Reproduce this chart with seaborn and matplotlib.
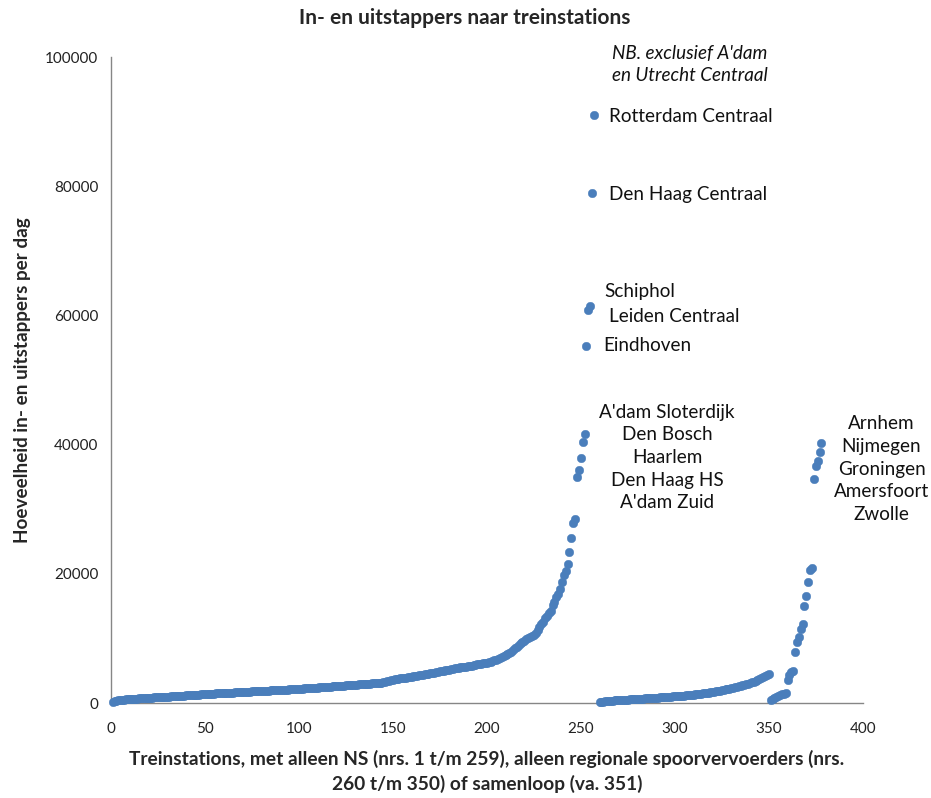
import numpy as np
import pandas as pd
import matplotlib
matplotlib.use("Agg")
import matplotlib.pyplot as plt
import seaborn as sns

# stations served only by NS (nrs. 1..257 shown, A'dam/Utrecht CS excluded), sorted
ns_values = [
    120, 290, 370, 430, 470, 500, 530, 560, 590, 610,
    640, 660, 680, 700, 715, 735, 760, 775, 790, 810,
    830, 850, 865, 880, 900, 920, 935, 955, 970, 990,
    1005, 1020, 1045, 1060, 1080, 1105, 1120, 1140, 1165, 1180,
    1200, 1225, 1240, 1260, 1285, 1300, 1320, 1345, 1360, 1390,
    1405, 1420, 1440, 1450, 1470, 1490, 1500, 1515, 1530, 1550,
    1565, 1580, 1600, 1610, 1625, 1645, 1660, 1675, 1690, 1710,
    1720, 1740, 1755, 1770, 1790, 1800, 1815, 1830, 1850, 1865,
    1880, 1895, 1910, 1930, 1945, 1960, 1975, 1990, 2010, 2025,
    2040, 2060, 2075, 2090, 2110, 2125, 2140, 2160, 2180, 2200,
    2220, 2240, 2260, 2280, 2300, 2320, 2345, 2365, 2385, 2405,
    2425, 2450, 2470, 2490, 2510, 2530, 2555, 2575, 2600, 2620,
    2640, 2665, 2685, 2705, 2730, 2750, 2770, 2790, 2815, 2835,
    2855, 2875, 2900, 2920, 2940, 2960, 2985, 3005, 3030, 3050,
    3075, 3100, 3125, 3150, 3180, 3250, 3350, 3450, 3550, 3620,
    3680, 3730, 3780, 3820, 3860, 3900, 3950, 3990, 4040, 4090,
    4140, 4190, 4240, 4300, 4350, 4400, 4450, 4500, 4560, 4610,
    4660, 4710, 4770, 4830, 4890, 4940, 5000, 5060, 5120, 5180,
    5240, 5300, 5360, 5420, 5470, 5520, 5560, 5610, 5650, 5700,
    5750, 5800, 5860, 5920, 5980, 6030, 6090, 6150, 6210, 6270,
    6340, 6420, 6500, 6600, 6700, 6820, 6950, 7080, 7220, 7370,
    7530, 7700, 7900, 8150, 8450, 8750, 9000, 9250, 9450, 9650,
    9850, 10050, 10200, 10350, 10500, 10900, 11300, 11700, 12200, 12600,
    13100, 13500, 13900, 14200, 15100, 15700, 16400, 16900, 17700, 18800,
    19800, 20400, 21500, 23400, 25600, 27900, 28500, 35000, 36100, 37900,
    40400, 41600, 55300, 60900, 61500, 79000, 91000,
]

# regional operators only (nrs. 260..350), sorted
regional_values = [
    100, 180, 230, 270, 300, 330, 360, 380, 400, 420,
    440, 460, 480, 500, 520, 540, 555, 570, 590, 610,
    630, 650, 670, 690, 710, 730, 750, 770, 790, 810,
    830, 850, 870, 890, 910, 935, 955, 980, 1000, 1020,
    1045, 1070, 1090, 1115, 1140, 1165, 1190, 1215, 1240, 1270,
    1300, 1330, 1360, 1400, 1440, 1480, 1520, 1560, 1600, 1650,
    1700, 1750, 1800, 1860, 1920, 1980, 2040, 2100, 2170, 2240,
    2310, 2380, 2450, 2520, 2600, 2680, 2760, 2840, 2930, 3020,
    3120, 3220, 3330, 3450, 3570, 3700, 3840, 3990, 4150, 4320,
    4480,
]

# shared NS + regional (from nr. 351), sorted
shared_values = [
    400, 600, 850, 1000, 1150, 1250, 1350, 1450, 1500, 3600,
    4300, 4800, 5000, 7900, 9500, 10300, 11500, 12300, 15000, 16600,
    18800, 20600, 20900, 34700, 36700, 37400, 38900, 40200,
]

ns_start, regional_start, shared_start = 1, 260, 351

df = pd.DataFrame({
    "nr": list(range(ns_start, ns_start + len(ns_values)))
          + list(range(regional_start, regional_start + len(regional_values)))
          + list(range(shared_start, shared_start + len(shared_values))),
    "reizigers": ns_values + regional_values + shared_values,
})

sns.set_style("white")
plt.rcParams["font.family"] = ["Lato", "DejaVu Sans"]

fig = plt.figure(figsize=(9.31, 7.98), dpi=100)
ax = fig.add_axes([0.119, 0.119, 0.8077, 0.8095])

sns.scatterplot(data=df, x="nr", y="reizigers", ax=ax, color="#4A7EBB",
                s=38, edgecolor="#4A7EBB", linewidth=0.3, clip_on=False, zorder=3)

ax.set_xlim(0, 400)
ax.set_ylim(0, 100000)
ax.set_xticks(range(0, 401, 50))
ax.set_yticks(range(0, 100001, 20000))

for side in ["top", "right"]:
    ax.spines[side].set_visible(False)
for side in ["left", "bottom"]:
    ax.spines[side].set_color("#868686")
    ax.spines[side].set_linewidth(1.0)
ax.tick_params(axis="both", direction="out", length=5, width=1, color="#868686",
               labelsize=11, labelcolor="#222222", pad=4)
ax.tick_params(axis="x", pad=9)

ax.set_xlabel("Treinstations, met alleen NS (nrs. 1 t/m 259), alleen regionale spoorvervoerders (nrs.\n"
              "260 t/m 350) of samenloop (va. 351)",
              fontsize=13.8, fontweight="bold", labelpad=10, linespacing=1.4)
ax.set_ylabel("Hoeveelheid in- en uitstappers per dag", fontsize=13.6, fontweight="bold", labelpad=10)
fig.text(0.4995, 0.977, "In- en uitstappers naar treinstations", ha="center", va="center",
         fontsize=15, fontweight="bold")

lbl = dict(fontsize=13.6, color="#111111", va="center")
ax.text(308, 98800, "NB. exclusief A'dam\nen Utrecht Centraal", ha="center", style="italic",
        linespacing=1.35, clip_on=False, **lbl)
ax.text(265, 90870, "Rotterdam Centraal", ha="left", **lbl)
ax.text(265, 78800, "Den Haag Centraal", ha="left", **lbl)
ax.text(262.3, 63700, "Schiphol", ha="left", **lbl)
ax.text(265, 59900, "Leiden Centraal", ha="left", **lbl)
ax.text(261.9, 55300, "Eindhoven", ha="left", **lbl)
ax.text(296, 38000, "A'dam Sloterdijk\nDen Bosch\nHaarlem\nDen Haag HS\nA'dam Zuid",
        ha="center", linespacing=1.4, **lbl)
ax.text(410, 36200, "Arnhem\nNijmegen\nGroningen\nAmersfoort\nZwolle",
        ha="center", linespacing=1.4, clip_on=False, **lbl)

fig.savefig("out.png", dpi=100)
